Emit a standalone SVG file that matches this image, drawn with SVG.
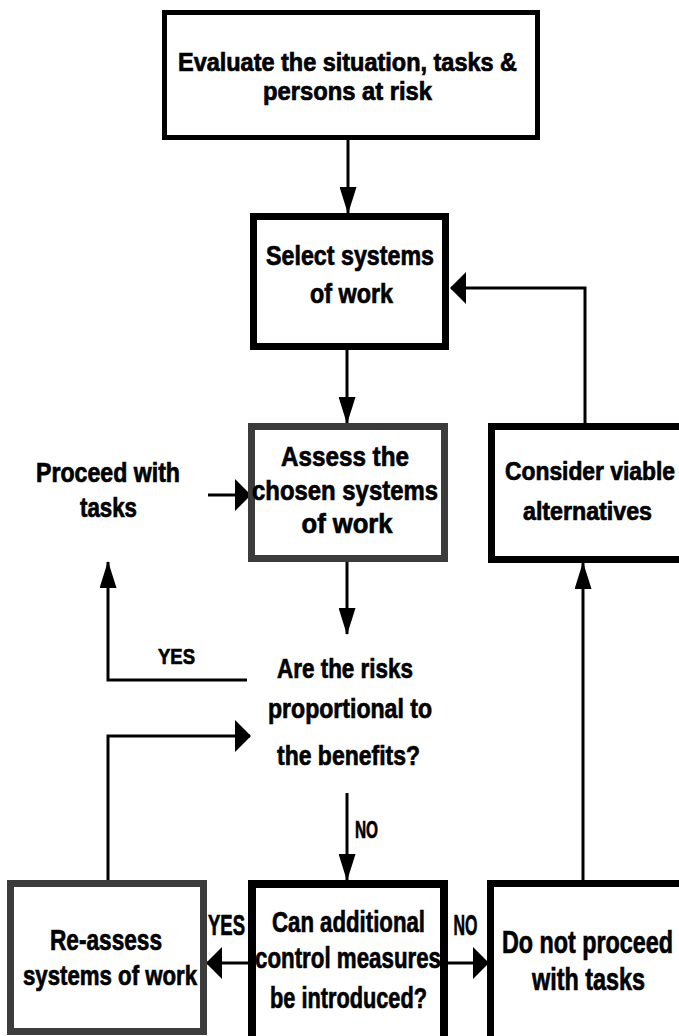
<svg xmlns="http://www.w3.org/2000/svg" width="679" height="1036" viewBox="0 0 679 1036">
<style>
.box{fill:#fff;stroke:#000;}
.obox{fill:#fff;stroke:#000;stroke-linejoin:miter;}
.gbox{fill:#fff;stroke:#3c3c3c;}
.t{font-family:"Liberation Sans",Arial,sans-serif;font-weight:bold;fill:#000;stroke:#000;stroke-width:0.7;text-anchor:middle;}
.c{fill:none;stroke:#000;stroke-width:3;}
.cv{marker-end:url(#av);}
.ch{marker-end:url(#ah);}
</style>
<defs>
<marker id="av" markerUnits="userSpaceOnUse" markerWidth="27" markerHeight="17" refX="26" refY="8.5" orient="auto" viewBox="0 0 27 17">
<path d="M0,0 L27,8.5 L0,17 z" fill="#000"/>
</marker>
<marker id="ah" markerUnits="userSpaceOnUse" markerWidth="16" markerHeight="32" refX="15" refY="16" orient="auto" viewBox="0 0 16 32">
<path d="M0,0 L16,16 L0,32 z" fill="#000"/>
</marker>
</defs>
<rect width="679" height="1036" fill="#fff"/>
<g id="connectors">
<path class="c cv" d="M348,140 V213"/>
<path class="c cv" d="M347,350 V423"/>
<path class="c cv" d="M347,562 V634"/>
<path class="c cv" d="M347,793 V880"/>
<path class="c cv" d="M247,680 H108 V562"/>
<path class="c ch" d="M108,880 V736 H250"/>
<path class="c ch" d="M208,495 H250"/>
<path class="c ch" d="M248,963 H207"/>
<path class="c ch" d="M448,963 H488"/>
<path class="c cv" d="M583,880 V563"/>
<path class="c ch" d="M585,423 V288 H451"/>
</g>
<g id="n-evaluate">
<rect class="box" x="164.5" y="12.5" width="373" height="125" stroke-width="5"/>
<text class="t" transform="translate(347.5,71) scale(0.94,1)" font-size="25" textLength="360.6" lengthAdjust="spacingAndGlyphs">Evaluate the situation, tasks &amp;</text>
<text class="t" transform="translate(347.5,100) scale(0.95,1)" font-size="25" textLength="177.9" lengthAdjust="spacingAndGlyphs">persons at risk</text>
</g>
<g id="n-select">
<rect class="box" x="253.5" y="216.5" width="192" height="130" stroke-width="7"/>
<text class="t" transform="translate(350,265) scale(0.83,1)" font-size="28" textLength="202.4" lengthAdjust="spacingAndGlyphs">Select systems</text>
<text class="t" transform="translate(351.5,303) scale(0.83,1)" font-size="28" textLength="100" lengthAdjust="spacingAndGlyphs">of work</text>
</g>
<g id="n-assess">
<rect class="gbox" x="251.5" y="426.5" width="193" height="132" stroke-width="7"/>
<text class="t" transform="translate(345,466) scale(0.77,1)" font-size="28" textLength="166" lengthAdjust="spacingAndGlyphs">Assess the</text>
<text class="t" transform="translate(345,500) scale(0.85,1)" font-size="28" textLength="218.8" lengthAdjust="spacingAndGlyphs">chosen systems</text>
<text class="t" transform="translate(347,533) scale(0.91,1)" font-size="28" textLength="100" lengthAdjust="spacingAndGlyphs">of work</text>
</g>
<g id="n-proceed">
<text class="t" transform="translate(108,482) scale(0.86,1)" font-size="27" textLength="167.4" lengthAdjust="spacingAndGlyphs">Proceed with</text>
<text class="t" transform="translate(108.5,517) scale(0.83,1)" font-size="27" textLength="68.7" lengthAdjust="spacingAndGlyphs">tasks</text>
</g>
<g id="n-consider">
<path class="obox" d="M679,426.5 H491.5 V559.5 H679" stroke-width="7"/>
<text class="t" transform="translate(590,480) scale(0.91,1)" font-size="25" textLength="186.8" lengthAdjust="spacingAndGlyphs">Consider viable</text>
<text class="t" transform="translate(587.5,520) scale(0.93,1)" font-size="25" textLength="138.7" lengthAdjust="spacingAndGlyphs">alternatives</text>
</g>
<g id="n-decision">
<text class="t" transform="translate(345,678) scale(0.8,1)" font-size="28" textLength="170" lengthAdjust="spacingAndGlyphs">Are the risks</text>
<text class="t" transform="translate(350,718) scale(0.82,1)" font-size="28" textLength="200" lengthAdjust="spacingAndGlyphs">proportional to</text>
<text class="t" transform="translate(348.5,765) scale(0.82,1)" font-size="28" textLength="174.4" lengthAdjust="spacingAndGlyphs">the benefits?</text>
</g>
<g id="labels">
<text class="t" transform="translate(176.5,664) scale(0.84,1)" font-size="22" textLength="44" lengthAdjust="spacingAndGlyphs">YES</text>
<text class="t" transform="translate(366.5,838) scale(0.64,1)" font-size="24" textLength="36" lengthAdjust="spacingAndGlyphs">NO</text>
<text class="t" transform="translate(226.5,935) scale(0.64,1)" font-size="29" textLength="57.8" lengthAdjust="spacingAndGlyphs">YES</text>
<text class="t" transform="translate(465.5,935) scale(0.55,1)" font-size="29" textLength="43.6" lengthAdjust="spacingAndGlyphs">NO</text>
</g>
<g id="n-reassess">
<rect class="gbox" x="10.5" y="883.5" width="193" height="148" stroke-width="7"/>
<text class="t" transform="translate(106,950) scale(0.76,1)" font-size="30" textLength="147.4" lengthAdjust="spacingAndGlyphs">Re-assess</text>
<text class="t" transform="translate(110,985) scale(0.79,1)" font-size="28" textLength="220.3" lengthAdjust="spacingAndGlyphs">systems of work</text>
</g>
<g id="n-control">
<path class="obox" d="M252,1036 V884 H444 V1036" stroke-width="8"/>
<text class="t" transform="translate(348.5,932) scale(0.74,1)" font-size="30" textLength="206.8" lengthAdjust="spacingAndGlyphs">Can additional</text>
<text class="t" transform="translate(348,968) scale(0.74,1)" font-size="30" textLength="251.4" lengthAdjust="spacingAndGlyphs">control measures</text>
<text class="t" transform="translate(348.5,1008) scale(0.72,1)" font-size="30" textLength="218" lengthAdjust="spacingAndGlyphs">be introduced?</text>
</g>
<g id="n-donot">
<path class="obox" d="M679,883.5 H490.5 V1036" stroke-width="7"/>
<text class="t" transform="translate(587.5,953) scale(0.73,1)" font-size="32" textLength="234.2" lengthAdjust="spacingAndGlyphs">Do not proceed</text>
<text class="t" transform="translate(588.5,990) scale(0.73,1)" font-size="32" textLength="154.8" lengthAdjust="spacingAndGlyphs">with tasks</text>
</g>
</svg>
